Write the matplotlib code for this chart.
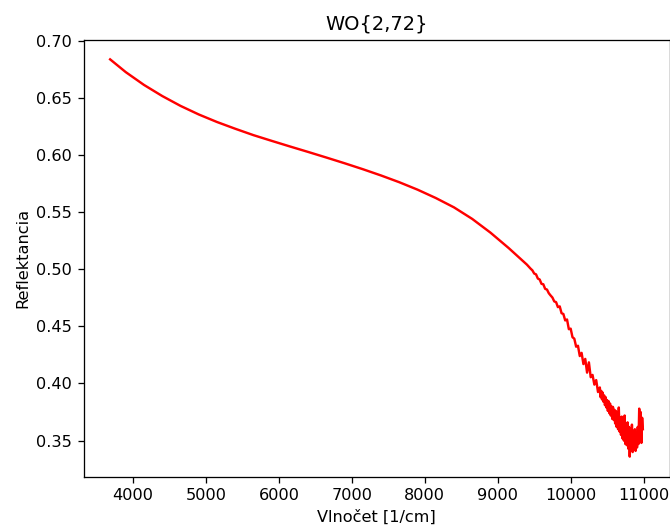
import matplotlib.pyplot as plt

# hladka cast spektra
vlnocet_hladka = [3685, 3900, 4150, 4400, 4650, 4900, 5150, 5400, 5650, 5900,
                  6150, 6400, 6650, 6900, 7150, 7400, 7650, 7900, 8150, 8400,
                  8650, 8900, 9150, 9400]
refl_hladka = [0.6836, 0.6724, 0.6612, 0.6515, 0.6429, 0.6354, 0.6288, 0.6229,
               0.6173, 0.6123, 0.6074, 0.6026, 0.5977, 0.5927, 0.5875, 0.5820,
               0.5761, 0.5696, 0.5623, 0.5541, 0.5440, 0.5320, 0.5185, 0.5040]

# zasumena cast
vlnocet_sum = [9450, 9475, 9500, 9525, 9550, 9575, 9600, 9625, 9650, 9675,
               9700, 9725, 9750, 9775, 9800, 9825, 9850, 9875, 9900, 9925,
               9950, 9975, 10000, 10025, 10050, 10075, 10100, 10125, 10150, 10175,
               10200, 10225, 10250, 10275, 10300, 10325, 10350, 10375]
refl_sum = [0.5005, 0.4990, 0.4962, 0.4955, 0.4918, 0.4910, 0.4872, 0.4868,
            0.4828, 0.4822, 0.4790, 0.4770, 0.4752, 0.4718, 0.4712, 0.4668,
            0.4675, 0.4615, 0.4608, 0.4552, 0.4560, 0.4475, 0.4480, 0.4405,
            0.4392, 0.4322, 0.4330, 0.4240, 0.4268, 0.4170, 0.4215, 0.4095,
            0.4185, 0.4055, 0.4075, 0.3990, 0.4030, 0.3925]

vlnocet_konec = [10400, 10410, 10420, 10430, 10440, 10450, 10460, 10470, 10480, 10490,
                 10500, 10510, 10520, 10530, 10540, 10550, 10560, 10570, 10580, 10590,
                 10600, 10610, 10620, 10630, 10640, 10650, 10660, 10670, 10680, 10690,
                 10700, 10710, 10720, 10730, 10740, 10750, 10760, 10770, 10780, 10790,
                 10800, 10810, 10820, 10830, 10840, 10850, 10860, 10870, 10880, 10890,
                 10900, 10910, 10920, 10930, 10940, 10950, 10960, 10970, 10980, 10990]
refl_konec = [0.3965, 0.3880, 0.3935, 0.3860, 0.3920, 0.3840, 0.3895, 0.3810,
              0.3880, 0.3790, 0.3855, 0.3760, 0.3845, 0.3740, 0.3825, 0.3720,
              0.3800, 0.3690, 0.3795, 0.3680, 0.3770, 0.3650, 0.3760, 0.3620,
              0.3745, 0.3600, 0.3790, 0.3580, 0.3700, 0.3550, 0.3710, 0.3520,
              0.3680, 0.3500, 0.3720, 0.3470, 0.3640, 0.3460, 0.3660, 0.3430,
              0.3620, 0.3360, 0.3580, 0.3420, 0.3640, 0.3400, 0.3560, 0.3450,
              0.3600, 0.3410, 0.3550, 0.3440, 0.3620, 0.3470, 0.3780, 0.3500,
              0.3750, 0.3480, 0.3700, 0.3600]

vlnocet = vlnocet_hladka + vlnocet_sum + vlnocet_konec
reflektancia = refl_hladka + refl_sum + refl_konec

dpi = 116
fig = plt.figure(figsize=(670 / dpi, 528 / dpi), dpi=dpi)
ax = fig.add_axes([83.5 / 670, 51.5 / 528, 586 / 670, 437 / 528])
ax.plot(vlnocet, reflektancia, color="red", linewidth=1.5)
ax.set_title("WO{2,72}")
ax.set_xlabel("Vlnočet [1/cm]")
ax.set_ylabel("Reflektancia")
fig.savefig("out.png", dpi=dpi)
